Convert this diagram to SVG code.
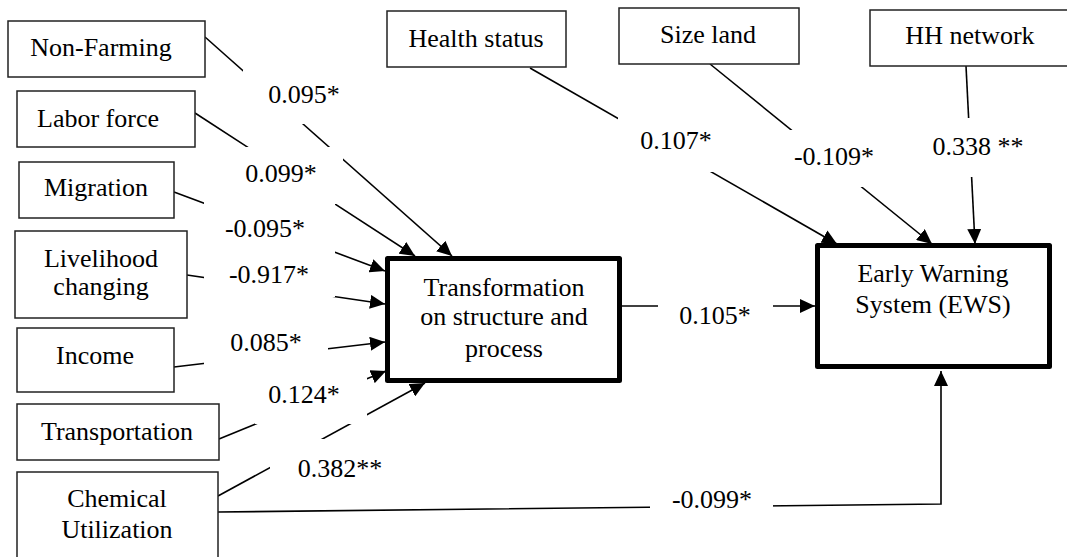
<svg xmlns="http://www.w3.org/2000/svg" width="1067" height="557" viewBox="0 0 1067 557">
  <style>
    text { font-family: 'Liberation Serif', 'Tinos', 'Times New Roman', Times, 'DejaVu Serif', serif; font-size: 26px; fill: #000; text-anchor: middle; }
    .box { fill: #fff; stroke: #222; stroke-width: 1.5; }
    .main { fill: #fff; stroke: #000; stroke-width: 5; stroke-linejoin: round; }
    .conn { fill: none; stroke: #000; stroke-width: 1.6; }
    .lblbg { fill: #fff; stroke: none; }
  </style>
  <defs>
    <marker id="arrow" markerUnits="userSpaceOnUse" markerWidth="15" markerHeight="14" refX="15" refY="7" orient="auto" viewBox="0 0 15 14">
      <path d="M0,0 L15,7 L0,14 z" fill="#000"/>
    </marker>
  </defs>
  <rect width="1067" height="557" fill="#fff"/>

  <g id="connectors">
    <line class="conn" x1="205" y1="37" x2="452" y2="256" marker-end="url(#arrow)"/>
    <line class="conn" x1="195" y1="113" x2="415" y2="256" marker-end="url(#arrow)"/>
    <line class="conn" x1="174" y1="192" x2="385" y2="271" marker-end="url(#arrow)"/>
    <line class="conn" x1="187" y1="275" x2="385" y2="304" marker-end="url(#arrow)"/>
    <line class="conn" x1="174" y1="367" x2="385" y2="342" marker-end="url(#arrow)"/>
    <line class="conn" x1="219" y1="439" x2="386" y2="371" marker-end="url(#arrow)"/>
    <line class="conn" x1="218" y1="496" x2="425" y2="383" marker-end="url(#arrow)"/>
    <line class="conn" x1="622" y1="306" x2="815" y2="306" marker-end="url(#arrow)"/>
    <line class="conn" x1="530" y1="68" x2="837" y2="244" marker-end="url(#arrow)"/>
    <line class="conn" x1="710" y1="64" x2="932" y2="244" marker-end="url(#arrow)"/>
    <line class="conn" x1="966" y1="66" x2="975" y2="244" marker-end="url(#arrow)"/>
    <polyline class="conn" points="218,512 941,504 941,371" marker-end="url(#arrow)"/>
  </g>

  <g id="labels">
    <g id="lbl-nonfarming"><rect class="lblbg" x="243" y="70" width="109" height="54"/><text x="304" y="103">0.095*</text></g>
    <g id="lbl-labor"><rect class="lblbg" x="204" y="147" width="139" height="57"/><text x="281" y="182">0.099*</text></g>
    <g id="lbl-migration"><rect class="lblbg" x="204" y="204" width="131" height="48"/><text x="265" y="237">-0.095*</text></g>
    <g id="lbl-livelihood"><rect class="lblbg" x="204" y="252" width="131" height="45"/><text x="269" y="283">-0.917*</text></g>
    <g id="lbl-income"><rect class="lblbg" x="204" y="322" width="124" height="50"/><text x="266" y="351">0.085*</text></g>
    <g id="lbl-transport"><rect class="lblbg" x="255" y="378" width="112" height="46"/><text x="304" y="403">0.124*</text></g>
    <g id="lbl-chem-trans"><rect class="lblbg" x="270" y="439" width="130" height="56"/><text x="340" y="477">0.382**</text></g>
    <g id="lbl-trans-ews"><rect class="lblbg" x="658" y="290" width="115" height="45"/><text x="715" y="324">0.105*</text></g>
    <g id="lbl-health"><rect class="lblbg" x="618" y="117" width="95" height="55"/><text x="676" y="149">0.107*</text></g>
    <g id="lbl-size"><rect class="lblbg" x="780" y="130" width="110" height="57"/><text x="834" y="165">-0.109*</text></g>
    <g id="lbl-hh"><rect class="lblbg" x="925" y="118" width="110" height="59"/><text x="978" y="155">0.338 **</text></g>
    <g id="lbl-chem-ews"><rect class="lblbg" x="650" y="488" width="123" height="32"/><text x="712" y="508">-0.099*</text></g>
  </g>

  <g id="node-nonfarming"><rect class="box" x="8" y="21" width="197" height="56"/><text x="101" y="56">Non-Farming</text></g>
  <g id="node-labor"><rect class="box" x="17" y="91" width="178" height="56"/><text x="98" y="127">Labor force</text></g>
  <g id="node-migration"><rect class="box" x="19" y="162" width="155" height="56"/><text x="96" y="196">Migration</text></g>
  <g id="node-livelihood"><rect class="box" x="15" y="231" width="172" height="87"/><text x="101" y="267">Livelihood</text><text x="101" y="295">changing</text></g>
  <g id="node-income"><rect class="box" x="17" y="328" width="157" height="64"/><text x="95" y="364">Income</text></g>
  <g id="node-transportation"><rect class="box" x="17" y="404" width="202" height="56"/><text x="117" y="440">Transportation</text></g>
  <g id="node-chemical"><rect class="box" x="17" y="472" width="201" height="100"/><text x="117" y="507">Chemical</text><text x="117" y="538">Utilization</text></g>
  <g id="node-health"><rect class="box" x="387" y="11" width="179" height="56"/><text x="476" y="47">Health status</text></g>
  <g id="node-size"><rect class="box" x="619" y="8" width="180" height="56"/><text x="708" y="43">Size land</text></g>
  <g id="node-hh"><rect class="box" x="870" y="10" width="210" height="56"/><text x="970" y="44">HH network</text></g>
  <g id="node-transformation"><rect class="main" x="387.5" y="258.5" width="232" height="122"/><text x="504" y="296">Transformation</text><text x="504" y="325">on structure and</text><text x="504" y="357">process</text></g>
  <g id="node-ews"><rect class="main" x="817.5" y="245.5" width="232" height="121"/><text x="933" y="282">Early Warning</text><text x="933" y="313">System (EWS)</text></g>
</svg>
